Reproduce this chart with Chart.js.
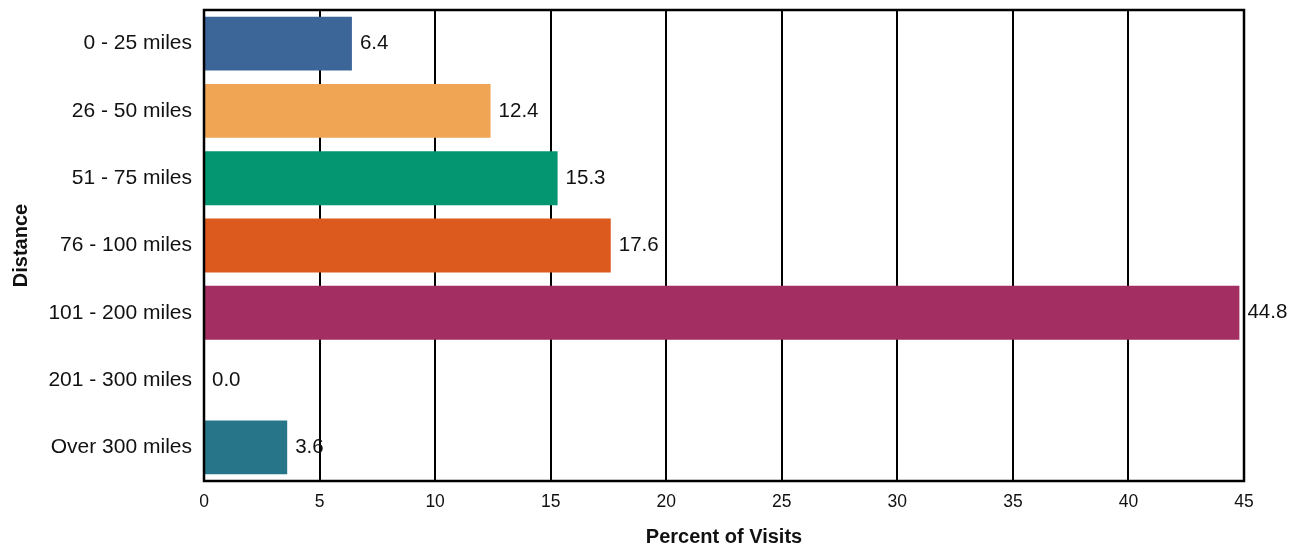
<!DOCTYPE html>
<html>
<head>
<meta charset="utf-8">
<script src="https://cdn.jsdelivr.net/npm/chart.js@4/dist/chart.umd.min.js"></script>
<style>
  html, body { margin: 0; padding: 0; background: #fff; }
  #wrap { width: 1298px; height: 547px; position: relative; }
</style>
</head>
<body>
<div id="wrap"><canvas id="c"></canvas></div>
<script>
// distance bands and share of visits
const distances = ['0 - 25 miles', '26 - 50 miles', '51 - 75 miles', '76 - 100 miles', '101 - 200 miles', '201 - 300 miles', 'Over 300 miles'];
const visitPct  = [6.4, 12.4, 15.3, 17.6, 44.8, 0.0, 3.6];
const barColors = ['#3c6598', '#f0a555', '#039671', '#dd5a1f', '#a22e62', '#7f7f7f', '#277589'];
const xMin = 0, xMax = 45, xStep = 5;

const FONT = '"Liberation Sans", Arial, sans-serif';
const INK  = '#111';

// value labels go under the grid, as in the original
const valueLabels = {
  id: 'valueLabels',
  beforeDatasetsDraw(chart) {
    const ctx = chart.ctx;
    const meta = chart.getDatasetMeta(0);
    ctx.save();
    ctx.font = '20.5px ' + FONT;
    ctx.fillStyle = INK;
    ctx.textAlign = 'left';
    ctx.textBaseline = 'middle';
    meta.data.forEach((bar, i) => {
      ctx.fillText(visitPct[i].toFixed(1), bar.x + 8, bar.y);
    });
    ctx.restore();
  }
};

// black frame round the plot
const frame = {
  id: 'frame',
  afterDatasetsDraw(chart) {
    const { left, top, right, bottom } = chart.chartArea;
    const ctx = chart.ctx;
    ctx.save();
    ctx.strokeStyle = '#000';
    ctx.lineWidth = 2.5;
    ctx.strokeRect(left, top, right - left, bottom - top);
    ctx.restore();
  }
};

new Chart(document.getElementById('c').getContext('2d'), {
  type: 'bar',
  data: {
    labels: distances,
    datasets: [{
      data: visitPct,
      backgroundColor: barColors,
      borderWidth: 0,
      barPercentage: 0.8,
      categoryPercentage: 1.0
    }]
  },
  options: {
    indexAxis: 'y',
    responsive: true,
    maintainAspectRatio: false,
    animation: false,
    layout: { padding: { top: 10, right: 54, bottom: 0, left: 0 } },
    plugins: { legend: { display: false }, tooltip: { enabled: false } },
    scales: {
      x: {
        min: xMin, max: xMax,
        ticks: { stepSize: xStep, color: INK, padding: 11, font: { family: FONT, size: 17.5 } },
        grid: { color: '#000', lineWidth: 2, drawTicks: false },
        border: { display: false },
        title: { display: true, text: 'Percent of Visits', color: INK, padding: 0,
                 font: { family: FONT, size: 20, weight: 'bold', lineHeight: 1 } },
        afterFit(s) { s.height = 66; }
      },
      y: {
        ticks: { color: INK, padding: 12, font: { family: FONT, size: 21 } },
        grid: { display: false, drawTicks: false },
        border: { display: false },
        title: { display: true, text: 'Distance', color: INK, padding: { top: 11, bottom: 0 },
                 font: { family: FONT, size: 20, weight: 'bold', lineHeight: 1 } },
        afterFit(s) { s.width = 204; s.paddingTop = 0; s.paddingBottom = 0; }
      }
    }
  },
  plugins: [valueLabels, frame]
});
</script>
</body>
</html>
